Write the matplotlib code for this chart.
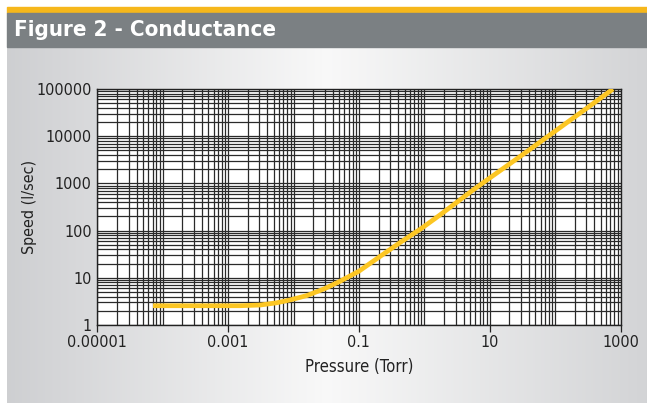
import numpy as np
import matplotlib
matplotlib.use("Agg")
import matplotlib.pyplot as plt
from matplotlib.patches import Rectangle
from matplotlib.ticker import LogLocator, FixedLocator, FixedFormatter, NullFormatter

# ---- data ----
pressure = [7.1e-5, 3e-4, 1.5e-3, 3.1e-3, 5.5e-3, 8.9e-3, 0.016, 0.03, 0.052,
            0.1, 0.2, 0.42, 0.91, 1.74, 5.6, 10, 29, 100, 300, 767]
speed = [2.56, 2.56, 2.56, 2.65, 2.95, 3.4, 4.2, 5.9, 8.5,
         13.8, 27, 55, 112, 215, 730, 1300, 3700, 12800, 38500, 100000]

x_ticks = [1e-5, 1e-3, 1e-1, 10, 1000]
x_tick_labels = ["0.00001", "0.001", "0.1", "10", "1000"]
y_ticks = [1, 10, 100, 1000, 10000, 100000]
y_tick_labels = ["1", "10", "100", "1000", "10000", "100000"]

title = "Figure 2 - Conductance"
xlabel = "Pressure (Torr)"
ylabel = "Speed (l/sec)"

FONT = ["DejaVu Sans", "Liberation Sans"]
plt.rcParams["font.family"] = FONT
plt.rcParams["font.stretch"] = "condensed"

W, H = 647, 404
fig = plt.figure(figsize=(W / 100, H / 100), dpi=100)
fig.patch.set_facecolor("white")

def fx(px):
    return px / W

def fy(py):
    return 1 - py / H

# background gradient panel
bg = fig.add_axes([fx(7), fy(403), fx(647) - fx(7), fy(46) - fy(403)], zorder=0)
xs = np.linspace(0, 1, 640)
center = 0.5
edge_l = np.array([0.808, 0.812, 0.822])
edge_r = np.array([0.827, 0.831, 0.839])
mid = np.array([0.975, 0.975, 0.975])
cols = np.zeros((1, len(xs), 3))
for i, t in enumerate(xs):
    if t < center:
        f = t / center
        cols[0, i] = edge_l + (mid - edge_l) * f
    else:
        f = (1 - t) / (1 - center)
        cols[0, i] = edge_r + (mid - edge_r) * f
bg.imshow(cols, aspect="auto", extent=[0, 1, 0, 1])
bg.set_axis_off()

# header bars
fig.patches.append(Rectangle((fx(7), fy(13)), 1 - fx(7), fy(7.5) - fy(13),
                             transform=fig.transFigure, color="#f6b71b", zorder=1))
fig.patches.append(Rectangle((fx(7), fy(46.5)), 1 - fx(7), fy(13) - fy(46.5),
                             transform=fig.transFigure, color="#7b8083", zorder=1))
fig.text(fx(14), fy(30.5), title, color="white", fontsize=16, fontweight="bold",
         va="center", ha="left", zorder=3, fontstretch="condensed")

# main axes
left, right, top, bottom = 97.3, 620.5, 89, 325
ax = fig.add_axes([fx(left), fy(bottom), fx(right) - fx(left), fy(top) - fy(bottom)], zorder=2)
ax.set_facecolor("white")
ax.set_xscale("log")
ax.set_yscale("log")
ax.set_xlim(1e-5, 1000)
ax.set_ylim(1, 100000)

ax.xaxis.set_major_locator(FixedLocator(x_ticks))
ax.xaxis.set_major_formatter(FixedFormatter(x_tick_labels))
ax.xaxis.set_minor_locator(LogLocator(base=10, subs=np.arange(1, 10), numticks=100))
ax.xaxis.set_minor_formatter(NullFormatter())
ax.yaxis.set_major_locator(FixedLocator(y_ticks))
ax.yaxis.set_major_formatter(FixedFormatter(y_tick_labels))
ax.yaxis.set_minor_locator(LogLocator(base=10, subs=np.arange(1, 10), numticks=100))
ax.yaxis.set_minor_formatter(NullFormatter())

ax.grid(True, which="both", color="#2a2a2a", linewidth=0.9)
ax.set_axisbelow(True)

ax.tick_params(axis="x", which="major", direction="out", length=5, width=0.9,
               color="#222222", labelsize=11.5, pad=2, labelcolor="#222222")
ax.tick_params(axis="x", which="minor", length=0)
ax.tick_params(axis="y", which="both", length=0, labelsize=11.5, pad=4, labelcolor="#222222")
for s in ax.spines.values():
    s.set_color("#222222")
    s.set_linewidth(1.0)

ax.plot(pressure, speed, color="#fcc623", linewidth=3.4, solid_capstyle="butt",
        solid_joinstyle="round", zorder=5)

ax.set_xlabel(xlabel, fontsize=12, color="#222222", labelpad=6)
ax.set_ylabel(ylabel, fontsize=11.5, color="#222222")
ax.yaxis.set_label_coords((fx(37) - fx(left)) / (fx(right) - fx(left)), 0.5)

fig.savefig("out.png", dpi=100)
